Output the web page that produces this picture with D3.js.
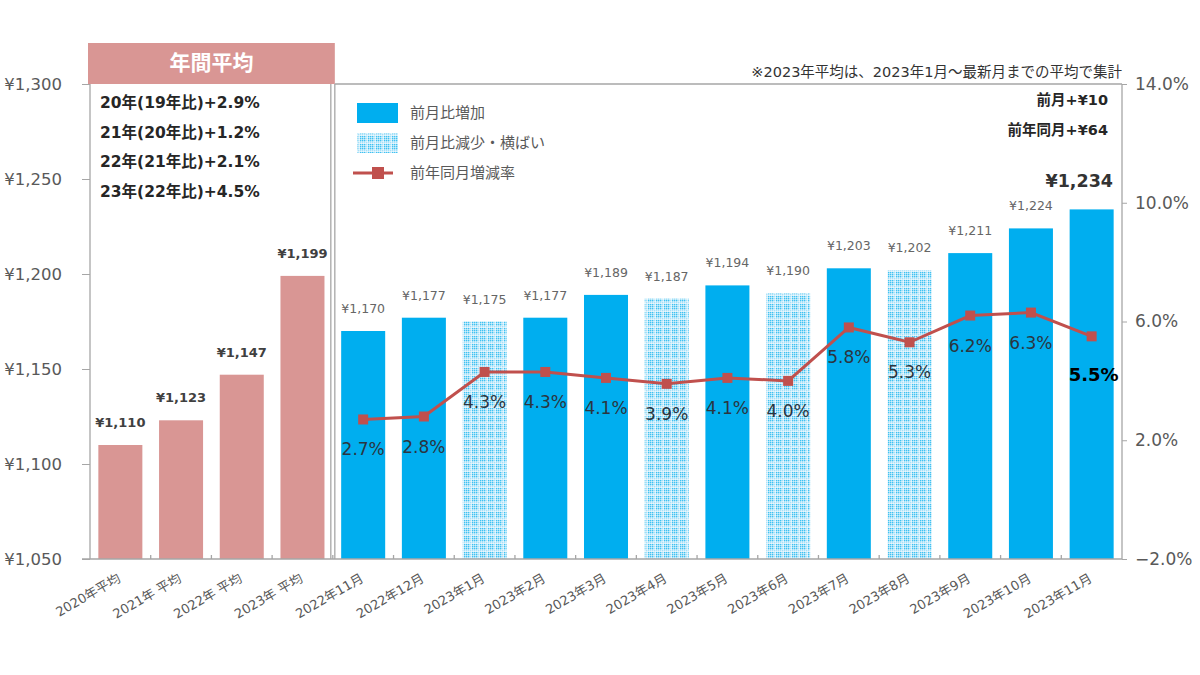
<!DOCTYPE html>
<html><head><meta charset="utf-8">
<script src="https://cdn.jsdelivr.net/npm/d3@7"></script>
<style>
body{margin:0;background:#fff;}
text{font-family:"DejaVu Sans","Noto Sans CJK JP",sans-serif;}
</style></head>
<body><svg id="c" width="1200" height="675"></svg>
<script>
const categories = ["2020年平均","2021年 平均","2022年 平均","2023年 平均","2022年11月","2022年12月","2023年1月","2023年2月","2023年3月","2023年4月","2023年5月","2023年6月","2023年7月","2023年8月","2023年9月","2023年10月","2023年11月"];
const values = [1110,1123,1147,1199,1170,1177,1175,1177,1189,1187,1194,1190,1203,1202,1211,1224,1234];
// bar kind: "avg" annual average, "up" 前月比増加, "down" 前月比減少・横ばい
const kinds = ["avg","avg","avg","avg","up","up","down","up","up","down","up","down","up","down","up","up","up"];
const lineCats = categories.slice(4);
const yoy = [2.7,2.8,4.3,4.3,4.1,3.9,4.1,4.0,5.8,5.3,6.2,6.3,5.5];
const leftTicks = [1050,1100,1150,1200,1250,1300];
const rightTicks = [-2,2,6,10,14];
const boxLines = ["20年(19年比)+2.9%","21年(20年比)+1.2%","22年(21年比)+2.1%","23年(22年比)+4.5%"];
const legendItems = ["前月比増加","前月比減少・横ばい","前年同月増減率"];
const note = "※2023年平均は、2023年1月～最新月までの平均で集計";
const notes2 = ["前月+¥10","前年同月+¥64"];

const svg = d3.select("#c");
const L = 90, R = 1122, T = 84, B = 559;
const blue = "#00aeef", pink = "#d99694", red = "#c0504d", grey = "#595959", axisC = "#a6a6a6";

const defs = svg.append("defs");
const pat = defs.append("pattern").attr("id","dots").attr("patternUnits","userSpaceOnUse").attr("width",8).attr("height",8);
pat.append("rect").attr("width",8).attr("height",8).attr("fill","#ffffff");
for (let i=0;i<4;i++) for (let j=0;j<4;j++) {
  const edge = (i===3 || j===3);
  pat.append("rect").attr("x",i*2).attr("y",j*2).attr("width",1.5).attr("height",1.5)
    .attr("fill", edge ? "#a8e0f8" : "#40c1f2");
}

const x = d3.scaleBand().domain(categories).range([L,R]).paddingInner(0.275).paddingOuter(0.1375);
const y = d3.scaleLinear().domain([1050,1300]).range([B,T]);
const y2 = d3.scaleLinear().domain([-2,14]).range([B,T]);

// header box
const hdrX0 = L-2, hdrX1 = x.step()*4 + L + 2;
svg.append("rect").attr("x",hdrX0).attr("y",43).attr("width",hdrX1-hdrX0).attr("height",T-43).attr("fill",pink);
svg.append("text").attr("x",(hdrX0+hdrX1)/2).attr("y",63).attr("text-anchor","middle").attr("dominant-baseline","central")
  .attr("fill","#fff").attr("font-weight","bold").attr("font-size",21).attr("font-family","Noto Sans CJK JP").text("年間平均");

// bars
svg.append("g").selectAll("rect").data(categories).join("rect")
  .attr("x",d=>x(d)).attr("width",x.bandwidth())
  .attr("y",(d,i)=>y(values[i])).attr("height",(d,i)=>B-y(values[i]))
  .attr("fill",(d,i)=>kinds[i]==="avg"?pink:kinds[i]==="up"?blue:"url(#dots)");

// frame lines
const sepX = L + x.step()*4;
const g = svg.append("g").attr("stroke",axisC).attr("stroke-width",1.3).attr("fill","none");
g.append("line").attr("x1",L).attr("x2",L).attr("y1",T).attr("y2",B);
g.append("line").attr("x1",sepX-2).attr("x2",sepX-2).attr("y1",T).attr("y2",B);
g.append("line").attr("x1",sepX+2).attr("x2",sepX+2).attr("y1",T).attr("y2",B);
g.append("line").attr("x1",sepX+2).attr("x2",R).attr("y1",T).attr("y2",T);
g.append("line").attr("x1",R).attr("x2",R).attr("y1",T).attr("y2",B);
g.append("line").attr("x1",L-8).attr("x2",R).attr("y1",B).attr("y2",B);
categories.forEach((c,i)=>{ if(i>0) g.append("line").attr("x1",L+x.step()*i).attr("x2",L+x.step()*i).attr("y1",B).attr("y2",B-4); });

// left axis
const la = svg.append("g").attr("transform",`translate(${L},0)`).call(d3.axisLeft(y).tickValues(leftTicks).tickSize(8).tickPadding(20).tickFormat(d=>"¥"+d3.format(",")(d)));
la.select(".domain").remove();
la.selectAll("line").attr("stroke",axisC);
la.selectAll("text").attr("font-size",16.5).attr("fill",grey).attr("font-family","DejaVu Sans");
// right axis
const ra = svg.append("g").attr("transform",`translate(${R},0)`).call(d3.axisRight(y2).tickValues(rightTicks).tickSize(5).tickPadding(8).tickFormat(d=>d3.format(".1f")(d)+"%"));
ra.select(".domain").remove();
ra.selectAll("line").attr("stroke",axisC);
ra.selectAll("text").attr("font-size",17).attr("fill",grey).attr("font-family","DejaVu Sans");

// x labels
svg.append("g").selectAll("text").data(categories).join("text")
  .attr("transform",d=>`translate(${x(d)+x.bandwidth()/2-1},${B+18}) rotate(-30)`)
  .attr("text-anchor","end").attr("dominant-baseline","central")
  .attr("font-size",13).attr("fill",grey).text(d=>d);

// bar value labels
svg.append("g").selectAll("text").data(categories.slice(0,16)).join("text")
  .attr("x",d=>x(d)+x.bandwidth()/2).attr("y",(d,i)=>y(values[i])-18)
  .attr("text-anchor","middle")
  .attr("font-size",(d,i)=>kinds[i]==="avg"?13:12.5)
  .attr("font-weight",(d,i)=>kinds[i]==="avg"?"bold":"normal")
  .attr("fill",(d,i)=>kinds[i]==="avg"?"#404040":"#666")
  .text((d,i)=>"¥"+d3.format(",")(values[i]));

// line
const lx = d=>x(d)+x.bandwidth()/2;
svg.append("path").datum(lineCats).attr("fill","none").attr("stroke",red).attr("stroke-width",3)
  .attr("d",d3.line().x(d=>lx(d)).y((d,i)=>y2(yoy[i])));
svg.append("g").selectAll("rect").data(lineCats).join("rect")
  .attr("x",d=>lx(d)-5).attr("y",(d,i)=>y2(yoy[i])-5).attr("width",10).attr("height",10).attr("fill",red);
svg.append("g").selectAll("text").data(lineCats).join("text")
  .attr("x",(d,i)=>lx(d)+(i===yoy.length-1?2:0)).attr("y",(d,i)=>y2(yoy[i])+(i===yoy.length-1?38:30))
  .attr("text-anchor","middle").attr("dominant-baseline","central")
  .attr("font-size",(d,i)=>i===yoy.length-1?18:17)
  .attr("font-weight",(d,i)=>i===yoy.length-1?"bold":"normal")
  .attr("fill",(d,i)=>i===yoy.length-1?"#000":"#2b3540")
  .attr("font-family","DejaVu Sans")
  .text((d,i)=>d3.format(".1f")(yoy[i])+"%");

// box text
svg.append("g").selectAll("text").data(boxLines).join("text")
  .attr("x",100).attr("y",(d,i)=>103+i*29.6).attr("dominant-baseline","central")
  .attr("font-size",15.5).attr("font-weight","bold").attr("fill","#262626").text(d=>d);

// legend
const lg = svg.append("g");
lg.append("rect").attr("x",357).attr("y",103).attr("width",41).attr("height",20).attr("fill",blue);
lg.append("rect").attr("x",357).attr("y",133).attr("width",41).attr("height",20).attr("fill","url(#dots)");
lg.append("line").attr("x1",353).attr("x2",393).attr("y1",173).attr("y2",173).attr("stroke",red).attr("stroke-width",3);
lg.append("rect").attr("x",372).attr("y",167).attr("width",12).attr("height",12).attr("fill",red);
lg.selectAll("text").data(legendItems).join("text")
  .attr("x",410).attr("y",(d,i)=>113+i*30).attr("dominant-baseline","central")
  .attr("font-size",15).attr("fill",grey).attr("font-family","Noto Sans CJK JP").text(d=>d);

// notes
svg.append("text").attr("x",1122).attr("y",72).attr("text-anchor","end").attr("dominant-baseline","central")
  .attr("font-size",14.5).attr("fill","#333").text(note);
svg.append("g").selectAll("text").data(notes2).join("text")
  .attr("x",1108).attr("y",(d,i)=>100+i*30).attr("text-anchor","end").attr("dominant-baseline","central")
  .attr("font-size",14.5).attr("font-weight","bold").attr("fill","#262626").text(d=>d);
svg.append("text").attr("x",1113).attr("y",181).attr("text-anchor","end").attr("dominant-baseline","central")
  .attr("font-size",17.5).attr("font-weight","bold").attr("fill","#333").text("¥"+d3.format(",")(values[16]));
</script></body></html>
